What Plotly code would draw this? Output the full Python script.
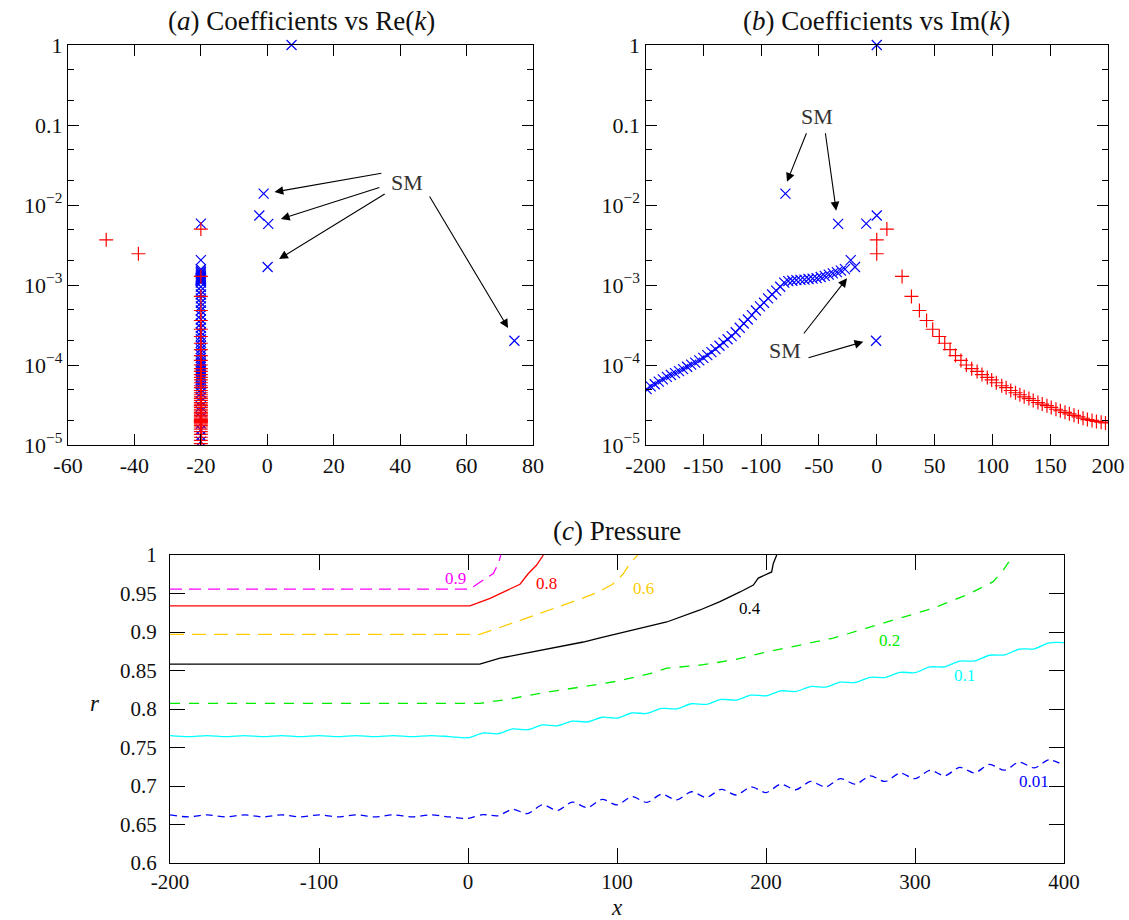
import plotly.graph_objects as go

# ---------------------------------------------------------------- data
# Discrete modes: real part, imaginary part and coefficient magnitude
blue_re   = [7.3, -1.1, -2.4, 0.3, -20.0, 0.1, 74.4]
blue_im   = [0.0, -79.0, 0.0, -33.4, -9.1, -18.8, -0.6]
blue_coef = [1.0, 0.0139, 0.00740, 0.00582, 0.00585, 0.00168, 2.01e-4]

red_re   = [-48.5, -38.8, -20.0]
red_im   = [0.0, 0.0, 8.75]
red_coef = [0.00367, 0.00246, 0.00500]

# Continuous-spectrum modes (all share the same real part)
RE_CONT = -20.0
cont_blue_im = [-376, -350, -326, -304, -284, -266, -250, -236, -224, -214, -206,
                -199.0, -195.5, -192.0, -188.5, -185.0, -181.5, -178.0, -174.5,
                -171.0, -167.5, -164.0, -160.5, -157.0, -153.5, -150.0, -146.5,
                -143.0, -139.5, -136.0, -132.5, -129.0, -125.5, -122.0, -118.5,
                -115.0, -111.5, -108.0, -104.5, -101.0, -97.5, -94.0, -90.5,
                -87.0, -83.5, -80.0, -76.5, -73.0, -69.5, -66.0, -62.5, -59.0,
                -55.5, -52.0, -48.5, -45.0, -41.5, -38.0, -34.5, -31.0, -27.5,
                -22.5]
cont_blue_coef = [9.3e-6, 1.1e-5, 1.3e-5, 1.55e-5, 1.85e-5, 2.2e-5, 2.6e-5, 3.0e-5,
                  3.5e-5, 4.0e-5, 4.5e-5,
                  5.0e-5, 5.4e-5, 5.75e-5, 6.2e-5, 6.6e-5, 7.1e-5, 7.5e-5, 7.9e-5,
                  8.4e-5, 8.9e-5, 9.5e-5, 1.01e-4, 1.07e-4, 1.14e-4, 1.23e-4, 1.33e-4,
                  1.45e-4, 1.58e-4, 1.74e-4, 1.9e-4, 2.1e-4, 2.3e-4, 2.57e-4, 2.92e-4,
                  3.3e-4, 3.7e-4, 4.2e-4, 4.8e-4, 5.4e-4, 6.0e-4, 6.8e-4, 7.6e-4,
                  8.5e-4, 9.5e-4, 1.07e-3, 1.12e-3, 1.13e-3, 1.15e-3, 1.16e-3, 1.17e-3,
                  1.19e-3, 1.2e-3, 1.22e-3, 1.26e-3, 1.30e-3, 1.35e-3, 1.40e-3, 1.45e-3,
                  1.51e-3, 1.58e-3, 2.05e-3]

cont_red_im = [21.9, 30.0, 36.9, 43.1, 48.4, 54.1, 58.8, 63.4, 68.1, 72.8, 77.5,
               82.1, 86.8, 91.0, 95.6, 99.4, 103.4, 108.1, 111.9, 115.9, 120.0,
               123.8, 127.5, 131.6, 135.3, 139.4, 143.1, 147.2, 150.9, 155.0, 158.8,
               162.8, 166.6, 170.6, 174.4, 178.4, 182.2, 186.2, 190.0, 194.1, 197.8,
               202, 208, 216, 226, 238, 252, 268, 286, 306, 328]
cont_red_coef = [1.28e-3, 7.2e-4, 4.8e-4, 3.6e-4, 2.8e-4, 2.27e-4, 1.87e-4, 1.56e-4,
                 1.31e-4, 1.14e-4, 1.0e-4, 9.0e-5, 8.3e-5, 7.6e-5, 7.0e-5, 6.5e-5,
                 6.0e-5, 5.5e-5, 5.2e-5, 4.8e-5, 4.5e-5, 4.25e-5, 4.0e-5, 3.8e-5,
                 3.6e-5, 3.4e-5, 3.25e-5, 3.1e-5, 2.95e-5, 2.8e-5, 2.68e-5, 2.56e-5,
                 2.45e-5, 2.35e-5, 2.25e-5, 2.16e-5, 2.08e-5, 2.03e-5, 1.97e-5, 1.93e-5,
                 1.89e-5, 1.83e-5, 1.76e-5, 1.68e-5, 1.58e-5, 1.47e-5, 1.36e-5, 1.25e-5,
                 1.14e-5, 1.04e-5, 9.4e-6]

# Pressure iso-lines (x, r)
p09_x = [-200, 1.3, 10.3, 17.0, 20.4, 22.0]
p09_r = [0.9558, 0.9558, 0.9675, 0.976, 0.989, 1.0]

p08_x = [-200, 1.3, 14.8, 27.0, 34.9, 40.5, 46.1, 50.6]
p08_r = [0.934, 0.934, 0.9437, 0.9554, 0.962, 0.976, 0.987, 1.0]

p06_x = [-200, 7.9, 32.6, 55.0, 77.0, 87.6, 97.0, 104.0, 109.0, 114.0]
p06_r = [0.897, 0.897, 0.9134, 0.9285, 0.944, 0.952, 0.962, 0.975, 0.990, 1.0]

p04_x = [-200, 7.9, 21.5, 32.6, 55.0, 77.4, 88.6, 111.0, 133.4, 155.7, 169.1,
         182.6, 191.5, 194.8, 203.8, 204.9, 207.2]
p04_r = [0.8584, 0.8584, 0.866, 0.870, 0.879, 0.887, 0.8925, 0.903, 0.913, 0.9286,
         0.9394, 0.952, 0.961, 0.970, 0.978, 0.989, 1.0]

p02_x = [-200, 8.0, 23.8, 55.0, 77.4, 99.8, 122.0, 133.4, 155.7, 178.0, 200.3,
         222.8, 245.0, 267.5, 289.9, 312.3, 334.6, 352.5, 359.3, 366.0]
p02_r = [0.8074, 0.8074, 0.8117, 0.8225, 0.829, 0.836, 0.846, 0.853, 0.857, 0.8636,
         0.874, 0.883, 0.892, 0.905, 0.918, 0.931, 0.948, 0.9654, 0.9805, 1.0]

p01_x = [-200, -187.5, -175, -162.5, -150, -137.5, -125, -112.5, -100, -87.5, -75,
         -62.5, -50, -37.5, -25, -12.5,
         0, 10, 20, 30, 40, 50, 60, 70, 80, 90, 100, 110, 120, 130, 140, 150, 160,
         170, 180, 190, 200, 210, 220, 230, 240, 250, 260, 270, 280, 290, 300, 310,
         320, 330, 340, 350, 360, 370, 380, 390, 400]
p01_r = [0.7655, 0.7642, 0.7655, 0.7642, 0.7655, 0.7642, 0.7655, 0.7642, 0.7655,
         0.7642, 0.7655, 0.7642, 0.7655, 0.7642, 0.7655, 0.7642,
         0.7627, 0.7688, 0.7679, 0.7741, 0.7731, 0.7793, 0.7782, 0.7843, 0.7832,
         0.7893, 0.7882, 0.7948, 0.7942, 0.8008, 0.8002, 0.8068, 0.8060, 0.8124,
         0.8116, 0.8180, 0.8172, 0.8236, 0.8228, 0.8292, 0.8284, 0.8348, 0.8344,
         0.8412, 0.8408, 0.8476, 0.8472, 0.8546, 0.8548, 0.8622, 0.8624, 0.8698,
         0.8702, 0.8778, 0.8782, 0.8858, 0.8862]

p001_x = p01_x
p001_r = [0.6625, 0.6598, 0.6625, 0.6598, 0.6625, 0.6598, 0.6625, 0.6598, 0.6625,
          0.6598, 0.6625, 0.6598, 0.6625, 0.6598, 0.6625, 0.6598,
          0.6580, 0.6629, 0.6613, 0.6697, 0.6641, 0.6755, 0.6683, 0.6791, 0.6719,
          0.6827, 0.6755, 0.6861, 0.6787, 0.6893, 0.6819, 0.6925, 0.6851, 0.6957,
          0.6883, 0.6989, 0.6915, 0.7023, 0.6951, 0.7059, 0.6987, 0.7095, 0.7023,
          0.7131, 0.7059, 0.7167, 0.7095, 0.7204, 0.7133, 0.7242, 0.7171, 0.7280,
          0.7205, 0.7310, 0.7235, 0.7340, 0.7265]

# level label, colour, dash, line shape, line arrays, label position (x, r)
levels = [
    ("0.9", "#ff00ff", "12px,7px", "linear", p09_x, p09_r, -8.7, 0.970),
    ("0.8", "#ff0000", "solid", "linear", p08_x, p08_r, 52.8, 0.963),
    ("0.6", "#ffcc00", "14px,8px", "linear", p06_x, p06_r, 117.7, 0.9567),
    ("0.4", "#000000", "solid", "linear", p04_x, p04_r, 189.5, 0.9308),
    ("0.2", "#00ee00", "10px,9px", "linear", p02_x, p02_r, 283.2, 0.8896),
    ("0.1", "#00ffff", "solid", "spline", p01_x, p01_r, 333.5, 0.8433),
    ("0.01", "#0000ff", "7px,5px", "spline", p001_x, p001_r, 379.9, 0.7056),
]

# ---------------------------------------------------------------- figure
W, H = 1129, 920
SERIF = "Liberation Serif"
BLUE, RED = "#0000ff", "#ff0000"


def px_x(p):
    return p / W


def px_y(p):
    return (H - p) / H


fig = go.Figure()

xmark = dict(symbol="x-thin", size=10, line=dict(color=BLUE, width=1.2))
pmark = dict(symbol="cross-thin", size=10, line=dict(color=RED, width=1.2))

# (a) coefficients against Re(k)
fig.add_trace(go.Scatter(x=[RE_CONT] * len(cont_blue_im), y=cont_blue_coef,
                         mode="markers", marker=xmark, xaxis="x", yaxis="y"))
fig.add_trace(go.Scatter(x=[RE_CONT] * len(cont_red_im), y=cont_red_coef,
                         mode="markers", marker=pmark, xaxis="x", yaxis="y"))
fig.add_trace(go.Scatter(x=blue_re, y=blue_coef, mode="markers", marker=xmark,
                         cliponaxis=False, xaxis="x", yaxis="y"))
fig.add_trace(go.Scatter(x=red_re, y=red_coef, mode="markers", marker=pmark,
                         cliponaxis=False, xaxis="x", yaxis="y"))

# (b) coefficients against Im(k)
fig.add_trace(go.Scatter(x=cont_blue_im, y=cont_blue_coef, mode="markers",
                         marker=xmark, xaxis="x2", yaxis="y2"))
fig.add_trace(go.Scatter(x=cont_red_im, y=cont_red_coef, mode="markers",
                         marker=pmark, xaxis="x2", yaxis="y2"))
fig.add_trace(go.Scatter(x=blue_im, y=blue_coef, mode="markers", marker=xmark,
                         cliponaxis=False, xaxis="x2", yaxis="y2"))
fig.add_trace(go.Scatter(x=red_im, y=red_coef, mode="markers", marker=pmark,
                         cliponaxis=False, xaxis="x2", yaxis="y2"))

# (c) pressure iso-lines
annotations = []
for lab, col, dash, shape, xs, rs, lx, lr in levels:
    line = dict(color=col, width=1.3, dash=dash, shape=shape)
    if shape == "spline":
        line["smoothing"] = 0.8
    fig.add_trace(go.Scatter(x=xs, y=rs, mode="lines", line=line,
                             xaxis="x3", yaxis="y3"))
    annotations.append(dict(x=lx, y=lr, xref="x3", yref="y3", text=lab,
                            xanchor="center", yanchor="middle", showarrow=False,
                            font=dict(family=SERIF, size=17, color=col)))

# log tick labels
dec_vals = [1e-5, 1e-4, 1e-3, 1e-2, 0.1, 1]
dec_text = ["10<sup>−5</sup>", "10<sup>−4</sup>", "10<sup>−3</sup>", "10<sup>−2</sup>",
            "0.1", "1"]
minor_vals = [m * d for d in [1e-5, 1e-4, 1e-3, 1e-2, 0.1] for m in (2, 5)]

tickfont = dict(family=SERIF, size=22, color="#111")
tickfont_c = dict(family=SERIF, size=21, color="#111")
common = dict(showline=True, linecolor="black", linewidth=1.2, mirror="ticks",
              ticks="inside", tickcolor="black", tickwidth=1, showgrid=False,
              zeroline=False, automargin=False)

logy = dict(type="log", range=[-5, 0], tickvals=dec_vals, ticktext=dec_text,
            ticklen=11, tickfont=tickfont,
            minor=dict(tickvals=minor_vals, ticks="inside", ticklen=6,
                       tickcolor="black", tickwidth=1, showgrid=False))

ax_a = list(range(-60, 81, 20))
ax_b = list(range(-200, 201, 50))
ax_c = list(range(-200, 401, 100))
ry_c = [0.6, 0.65, 0.7, 0.75, 0.8, 0.85, 0.9, 0.95, 1.0]

fig.update_layout(
    width=W, height=H, margin=dict(l=0, r=0, t=0, b=0, autoexpand=False),
    paper_bgcolor="white", plot_bgcolor="white", showlegend=False,
    xaxis=dict(domain=[px_x(68), px_x(533)], range=[-60, 80], anchor="y",
               tickvals=ax_a, ticktext=[str(v) for v in ax_a], ticklen=11,
               tickfont=tickfont, **common),
    yaxis=dict(domain=[px_y(445), px_y(45)], anchor="x", **logy, **common),
    xaxis2=dict(domain=[px_x(645.5), px_x(1108)], range=[-200, 200], anchor="y2",
                tickvals=ax_b, ticktext=[str(v) for v in ax_b], ticklen=11,
                tickfont=tickfont, **common),
    yaxis2=dict(domain=[px_y(445), px_y(45)], anchor="x2", **logy, **common),
    xaxis3=dict(domain=[px_x(170), px_x(1064)], range=[-200, 400], anchor="y3",
                tickvals=ax_c, ticktext=[str(v) for v in ax_c], ticklen=15,
                tickfont=tickfont_c, **common),
    yaxis3=dict(domain=[px_y(863), px_y(555)], range=[0.6, 1.0], anchor="x3",
                tickvals=ry_c, ticktext=["0.6", "0.65", "0.7", "0.75", "0.8", "0.85",
                                         "0.9", "0.95", "1"], ticklen=15,
                ticklabelstandoff=8, tickfont=tickfont_c, **common),
)

titlefont = dict(family=SERIF, size=27, color="#111")
labelfont = dict(family=SERIF, size=23, color="#111")
texts = [
    (301, 21, "(<i>a</i>) Coefficients vs Re(<i>k</i>)", titlefont),
    (876, 21, "(<i>b</i>) Coefficients vs Im(<i>k</i>)", titlefont),
    (617, 531, "(<i>c</i>) Pressure", titlefont),
    (617, 907, "<i>x</i>", labelfont),
    (95, 703, "<i>r</i>", labelfont),
]
for tx, ty, txt, fnt in texts:
    annotations.append(dict(x=px_x(tx), y=px_y(ty), xref="paper", yref="paper",
                            xanchor="center", yanchor="middle", showarrow=False,
                            text=txt, font=fnt))

# "SM" labels and their arrows (tail -> head, x in data units, y in log10 units)
smfont = dict(family=SERIF, size=22, color="#333")
for xr, yr, sx, sy in [("x", "y", 42.0, -1.7125), ("x2", "y2", -51.5, -0.8875),
                       ("x2", "y2", -79.2, -3.82)]:
    annotations.append(dict(x=sx, y=sy, xref=xr, yref=yr, text="SM",
                            xanchor="center", yanchor="middle", showarrow=False,
                            font=smfont))
arrows = [
    ("x", "y", 34.8, -1.600, 2.17, -1.8375),
    ("x", "y", 34.2, -1.775, 4.10, -2.175),
    ("x", "y", 35.8, -1.850, 3.55, -2.675),
    ("x", "y", 48.6, -1.875, 72.5, -3.5375),
    ("x2", "y2", -60.3, -1.084, -77.6, -1.709),
    ("x2", "y2", -44.6, -1.084, -35.1, -2.071),
    ("x2", "y2", -64.1, -3.625, -25.7, -2.916),
    ("x2", "y2", -60.3, -3.916, -11.6, -3.709),
]
for xr, yr, tx, ty, hx, hy in arrows:
    annotations.append(dict(x=hx, y=hy, xref=xr, yref=yr, ax=tx, ay=ty, axref=xr,
                            ayref=yr, text="", showarrow=True, arrowhead=2,
                            arrowsize=1.6, arrowwidth=1.1, arrowcolor="black"))

fig.update_layout(annotations=annotations)
fig.write_html("out.html")
